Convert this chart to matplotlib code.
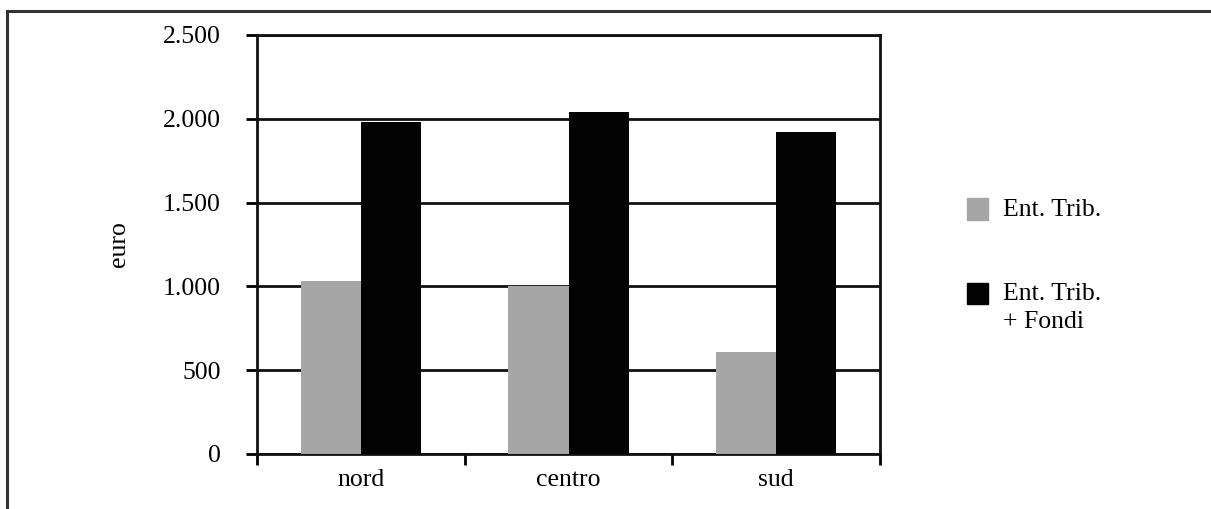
import matplotlib
matplotlib.use("Agg")
import matplotlib.pyplot as plt
from matplotlib.patches import Rectangle
import numpy as np

# Data
regions = ['nord', 'centro', 'sud']
ent_trib = [1030, 1000, 607]
ent_trib_fondi = [1978, 2042, 1923]
series_labels = ['Ent. Trib.', 'Ent. Trib.\n+ Fondi']
series_colors = ['#a6a6a6', '#030303']
yticks = [0, 500, 1000, 1500, 2000, 2500]
ytick_labels = ['0', '500', '1.000', '1.500', '2.000', '2.500']

plt.rcParams['font.family'] = 'Liberation Serif'
fs = 18.5

fig = plt.figure(figsize=(12.11, 5.09), dpi=100)
ax = fig.add_axes([257 / 1211, 1 - 454 / 509, 623 / 1211, 419 / 509])

# frame round the whole chart (only top and left edges fall inside the picture)
fig.patches.append(Rectangle((7 / 1211, -0.2), 1.2, 1.2 - 11 / 509,
                             transform=fig.transFigure, fill=False,
                             edgecolor='#333333', linewidth=2.2))

x = np.arange(len(regions))
w = 0.289
ax.bar(x - w / 2, ent_trib, w, color=series_colors[0], zorder=3)
ax.bar(x + w / 2, ent_trib_fondi, w, color=series_colors[1], zorder=3)

ax.set_xlim(-0.5, 2.5)
ax.set_ylim(0, 2500)
ax.set_yticks(yticks)
ax.set_yticklabels(ytick_labels)
ax.set_xticks(x)
ax.set_xticklabels(regions)
ax.set_xticks([-0.5, 0.5, 1.5, 2.5], minor=True)
ax.tick_params(axis='x', which='major', length=0, pad=11, labelsize=fs)
ax.tick_params(axis='x', which='minor', length=8, width=2, direction='out')
ax.tick_params(axis='y', length=8, width=2, pad=18, labelsize=fs)
ax.yaxis.grid(True, color='#111111', linewidth=2, zorder=1)
for s in ax.spines.values():
    s.set_linewidth(2)
    s.set_color('#111111')
ax.set_ylabel('euro', fontsize=fs, labelpad=24)

# legend drawn by hand: square beside the first line of each label
leg_y = [209, 293]  # pixel centres of the squares
for lab, col, yc in zip(series_labels, series_colors, leg_y):
    fy = 1 - yc / 509
    fig.patches.append(Rectangle((967 / 1211, fy - 10.5 / 509), 21 / 1211, 21 / 509,
                                 transform=fig.transFigure, color=col))
    fig.text(1003 / 1211, fy + 10 / 509, lab, fontsize=fs, va='top', ha='left',
             linespacing=1.35)

fig.savefig('out.png', dpi=100)
